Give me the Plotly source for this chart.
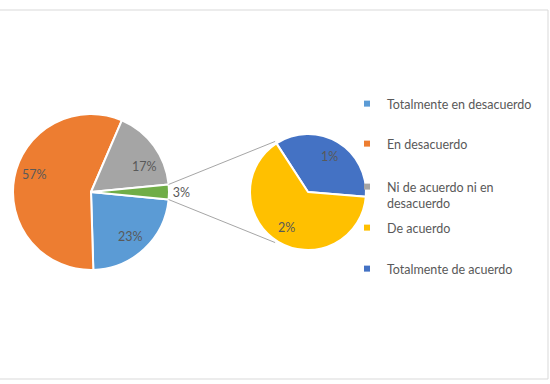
import math
import plotly.graph_objects as go

# ---- data ----
main_labels = ["Totalmente en desacuerdo", "En desacuerdo", "Ni de acuerdo ni en desacuerdo"]
main_values = [23, 57, 17]
sec_labels = ["Totalmente de acuerdo", "De acuerdo"]
sec_values = [1.1, 2.0]
other_label = "Otro"
legend_order = ["Totalmente en desacuerdo", "En desacuerdo", "Ni de acuerdo ni en desacuerdo",
                "De acuerdo", "Totalmente de acuerdo"]
legend_text = {"Ni de acuerdo ni en desacuerdo": "Ni de acuerdo ni en<br>desacuerdo"}

colors = {
    "Totalmente en desacuerdo": "#5B9BD5",
    "En desacuerdo": "#ED7D31",
    "Ni de acuerdo ni en desacuerdo": "#A5A5A5",
    "De acuerdo": "#FFC000",
    "Totalmente de acuerdo": "#4472C4",
    "Otro": "#70AD47",
}

W, H = 550, 384
FONT = "Lato"
TXT = "#595959"
FS = 12.5

# layout geometry (pixels)
main_c, main_r = (91, 192), 78
sec_c, sec_r = (308, 192), 58


def px(x):
    return x / W


def py(y):
    return 1 - y / H


def pt(c, r, a):
    return c[0] + r * math.sin(a), c[1] - r * math.cos(a)


other_value = sum(sec_values)
all_main_values = main_values + [other_value]
all_main_labels = main_labels + [other_label]
total = sum(all_main_values)
other_span = other_value / total * 360
main_rot = 90 + other_span / 2

sec_rot = -33

fig = go.Figure()

fig.add_trace(go.Pie(
    labels=all_main_labels, values=all_main_values, sort=False, direction="clockwise",
    rotation=main_rot,
    marker=dict(colors=[colors[l] for l in all_main_labels], line=dict(color="white", width=2)),
    text=[""] * len(main_values) + [f"{other_value:.0f}%"],
    textinfo="text",
    textposition=["none"] * len(main_values) + ["outside"],
    textfont=dict(family=FONT, size=FS, color=TXT),
    domain=dict(x=[px(main_c[0] - main_r), px(main_c[0] + main_r)],
                y=[py(main_c[1] + main_r), py(main_c[1] - main_r)]),
    showlegend=False, hoverinfo="label+percent",
))

fig.add_trace(go.Pie(
    labels=sec_labels, values=sec_values, sort=False, direction="clockwise",
    rotation=sec_rot,
    marker=dict(colors=[colors[l] for l in sec_labels], line=dict(color="white", width=2)),
    textinfo="none",
    domain=dict(x=[px(sec_c[0] - sec_r), px(sec_c[0] + sec_r)],
                y=[py(sec_c[1] + sec_r), py(sec_c[1] - sec_r)]),
    showlegend=False, hoverinfo="label+value",
))

# slice labels placed along each slice's bisector (Excel style)
annotations = []


def add_labels(values, rot, c, r, frac):
    tot = sum(values)
    ang = rot
    for v in values:
        span = v / tot * 360
        mid = math.radians(ang + span / 2)
        x, y = pt(c, r * frac, mid)
        annotations.append(dict(x=px(x), y=py(y), xref="paper", yref="paper",
                                xanchor="center", yanchor="middle",
                                text=f"{v:.0f}%", showarrow=False,
                                font=dict(family=FONT, size=FS, color=TXT)))
        ang += span


add_labels(main_values, main_rot, main_c, main_r, 0.76)
add_labels(sec_values, sec_rot, sec_c, sec_r, 0.72)

# connector lines (from the "other" slice edges to the secondary pie)
a_top = math.radians(90 - other_span / 2)
a_bot = math.radians(90 + other_span / 2)
b_top = math.radians(sec_rot)
b_bot = math.radians(180 - sec_rot)
rr = sec_r * 1.04

shapes = []
for a, b in [(a_top, b_top), (a_bot, b_bot)]:
    x0, y0 = pt(main_c, main_r, a)
    x1, y1 = pt(sec_c, rr, b)
    shapes.append(dict(type="line", xref="paper", yref="paper",
                       x0=px(x0), y0=py(y0), x1=px(x1), y1=py(y1),
                       line=dict(color="#A6A6A6", width=1)))

# chart frame
shapes.append(dict(type="rect", xref="paper", yref="paper",
                   x0=-0.01, x1=px(548), y0=py(379), y1=py(10),
                   line=dict(color="#D9D9D9", width=1)))

# legend (one legend per entry to mimic Excel spacing)
legend_y = [104, 144, 195, 228, 269]
layout_legends = {}
for i, (lab, ly) in enumerate(zip(legend_order, legend_y)):
    key = "legend" if i == 0 else f"legend{i + 1}"
    fig.add_trace(go.Scatter(
        x=[None], y=[None], mode="markers", name=legend_text.get(lab, lab),
        marker=dict(symbol="square", size=6, color=colors[lab]),
        legend=key, showlegend=True,
    ))
    layout_legends[key] = dict(
        x=px(347), xanchor="left", y=py(ly), yanchor="middle",
        font=dict(family=FONT, size=FS, color=TXT), bgcolor="rgba(0,0,0,0)",
        valign="top", borderwidth=0,
    )

fig.update_layout(
    width=W, height=H, margin=dict(l=0, r=0, t=0, b=0),
    paper_bgcolor="white", plot_bgcolor="white",
    xaxis=dict(visible=False), yaxis=dict(visible=False),
    shapes=shapes, annotations=annotations,
    **layout_legends,
)

fig.write_html("out.html")
